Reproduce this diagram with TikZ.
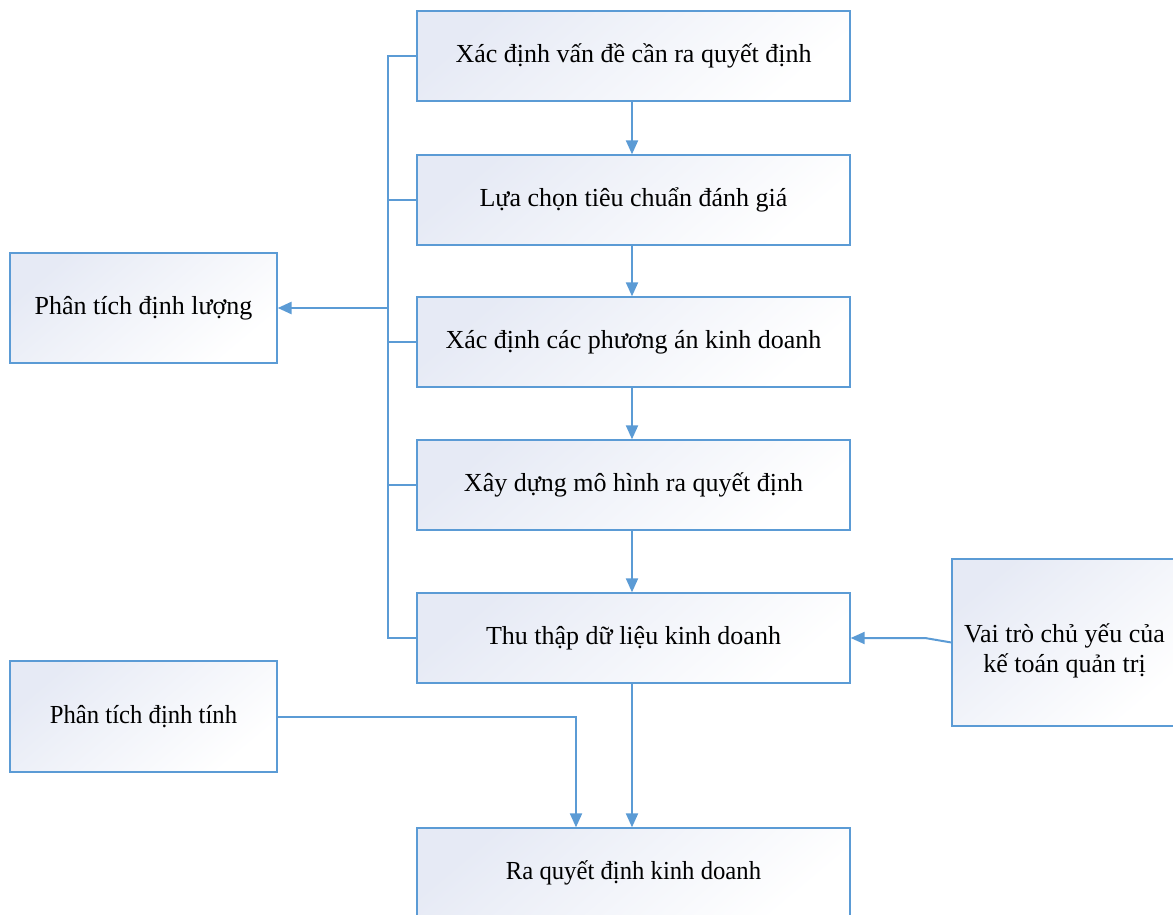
\documentclass[tikz,border=0pt]{standalone}
\usepackage{fontspec}
\setmainfont{Liberation Serif}
\usetikzlibrary{arrows.meta}
\definecolor{edge}{HTML}{5B9BD5}
\definecolor{tint}{HTML}{E6EAF5}
\tikzset{
  box/.style={draw=edge, line width=1.3pt, top color=tint, bottom color=white,
    shading angle=40, inner sep=0pt, align=center,
    font=\fontsize{26}{30}\selectfont},
  stepbox/.style={box, minimum width=433pt, minimum height=90pt},
  sidebox/.style={box, minimum width=267pt, minimum height=110pt},
  link/.style={draw=edge, line width=2pt},
  arr/.style={link, -{Triangle[length=14pt,width=12pt]}},
}
\newcommand{\narrow}[1]{\scalebox{0.95}[1]{#1}}
\begin{document}
\begin{tikzpicture}[x=1pt, y=-1pt]
  \useasboundingbox (0,0) rectangle (1173,915);
  \clip (0,0) rectangle (1173,915);

  % main sequence of steps
  \node[stepbox] (b1) at (633.5,56)  {Xác định vấn đề cần ra quyết định};
  \node[stepbox] (b2) at (633.5,200) {Lựa chọn tiêu chuẩn đánh giá};
  \node[stepbox] (b3) at (633.5,342) {Xác định các phương án kinh doanh};
  \node[stepbox] (b4) at (633.5,485) {Xây dựng mô hình ra quyết định};
  \node[stepbox] (b5) at (633.5,638) {Thu thập dữ liệu kinh doanh};
  \node[stepbox] (b6) at (633.5,873) {\narrow{Ra quyết định kinh doanh}};

  % side boxes
  \node[sidebox] (l1) at (143.5,308)   {Phân tích định lượng};
  \node[sidebox, minimum height=111pt] (l2) at (143.5,716.5) {\narrow{Phân tích định tính}};
  \node[box, minimum width=225pt, minimum height=167pt] (r) at (1064.5,642.5)
    {\rule{0pt}{35pt}Vai trò chủ yếu của\\kế toán quản trị};

  % helper points
  \coordinate (flow) at (632,0);
  \coordinate (bus) at (388,0);
  \coordinate (rk) at (925,638);
  \coordinate (drop) at (576,0);

  % downward flow
  \draw[arr] (b1.south -| flow) -- (b2.north -| flow);
  \draw[arr] (b2.south -| flow) -- (b3.north -| flow);
  \draw[arr] (b3.south -| flow) -- (b4.north -| flow);
  \draw[arr] (b4.south -| flow) -- (b5.north -| flow);
  \draw[arr] (b5.south -| flow) -- (b6.north -| flow);

  % bus collecting the first five steps
  \draw[link] (b1.west) -- (b1.west -| bus) -- (b5.west -| bus) -- (b5.west);
  \draw[link] (b2.west) -- (b2.west -| bus);
  \draw[link] (b3.west) -- (b3.west -| bus);
  \draw[link] (b4.west) -- (b4.west -| bus);
  \draw[arr, line width=2.6pt] (l1.east -| bus) -- (l1.east);

  % inputs from the sides
  \draw[arr] (r.west) -- (rk) -- (b5.east);
  \draw[arr] (l2.east) -| (b6.north -| drop);
\end{tikzpicture}
\end{document}
